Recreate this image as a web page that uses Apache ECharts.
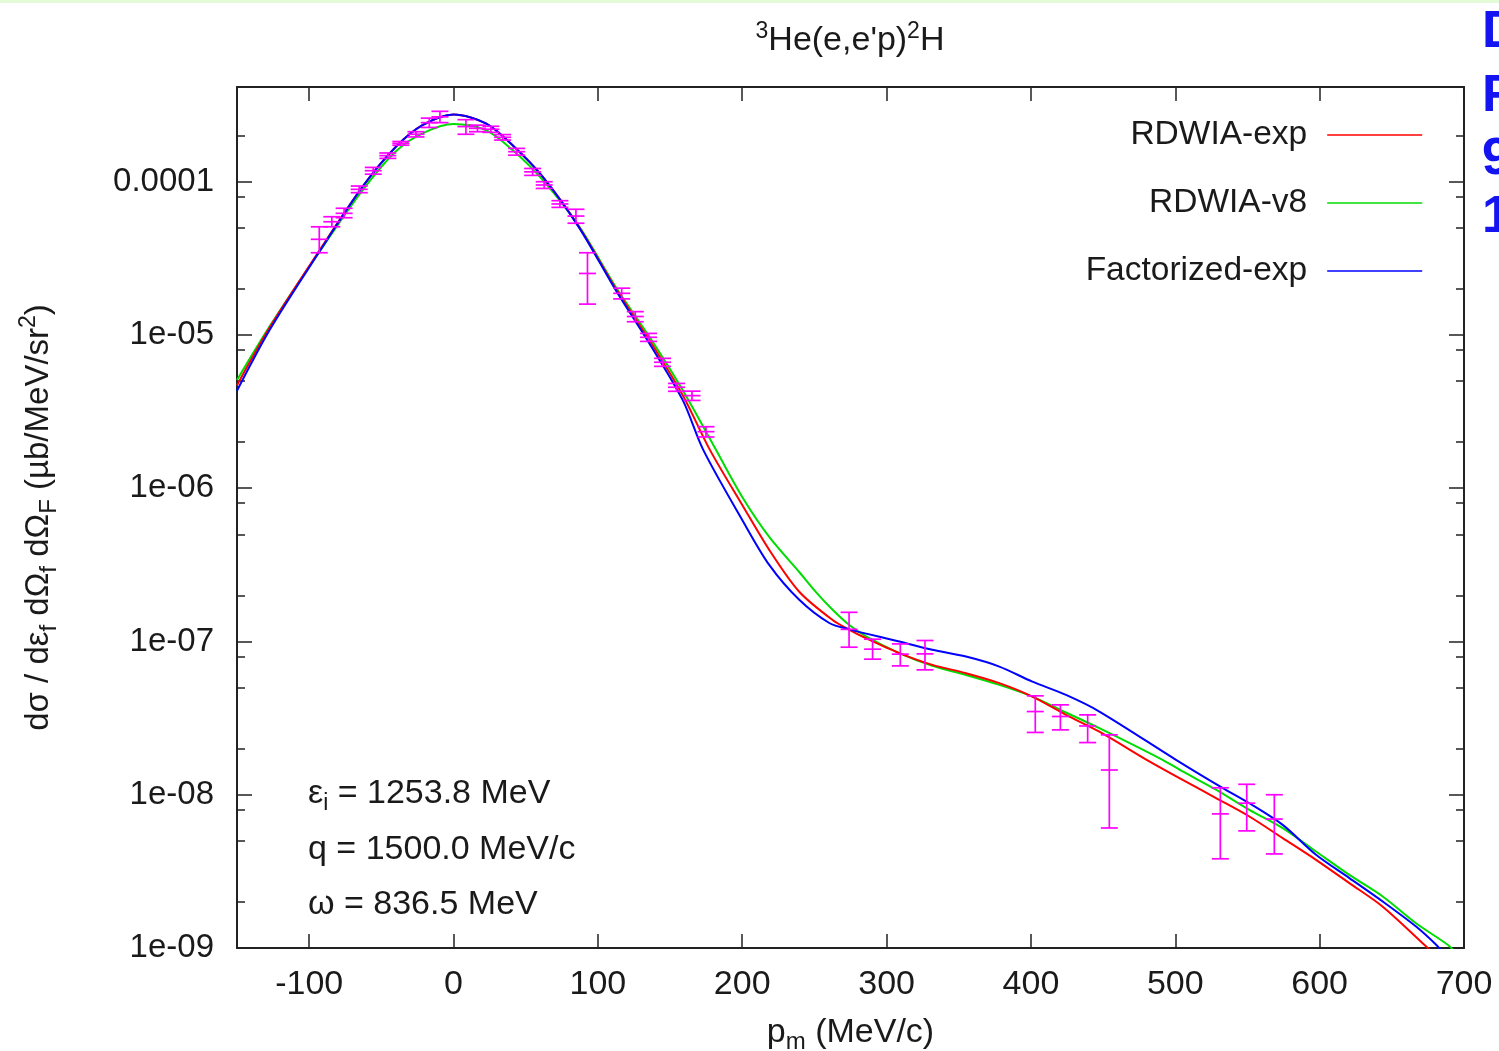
<!DOCTYPE html>
<html><head><meta charset="utf-8">
<script src="https://cdn.jsdelivr.net/npm/echarts@6/dist/echarts.min.js"></script>
<style>html,body{margin:0;padding:0;background:#fff;}#chart{width:1499px;height:1051px;}</style>
</head><body><div id="chart"></div>
<script>
const FONT = '"Liberation Sans", Arial, sans-serif';
const TXT = '#1a1a1a';

// axis ticks
const xTicks = [-100, 0, 100, 200, 300, 400, 500, 600, 700];
const yMajorTicks = [1e-9, 1e-8, 1e-7, 1e-6, 1e-5, 1e-4];
const yTickLabels = ['1e-09', '1e-08', '1e-07', '1e-06', '1e-05', '0.0001'];
const yMinorTicks = [2e-9, 5e-9, 8e-9, 2e-8, 5e-8, 8e-8, 2e-7, 5e-7, 8e-7, 2e-6, 5e-6, 8e-6, 2e-5, 5e-5, 8e-5, 2e-4];

// RDWIA-exp (red)
const redX = [-150, -127.6, -94.2, -63, -39.9, -21.5, 0, 22.4, 40.9, 61.7, 87.1, 112.5, 135.6, 158.7, 177.6, 200, 218.7, 239.5, 262.6, 274.2, 285.7, 308.8, 331.7, 355, 378.1, 401, 424.3, 447.4, 482, 505.1, 528.2, 551.3, 574.4, 597.5, 620.6, 643.7, 672.5, 680];
const redY = [4.69e-6, 1.11e-5, 3.41e-5, 9.28e-5, 1.69e-4, 2.34e-4, 2.75e-4, 2.40e-4, 1.73e-4, 1.08e-4, 5.05e-5, 2.0e-5, 9.28e-6, 4.06e-6, 1.78e-6, 7.78e-7, 3.96e-7, 2.11e-7, 1.38e-7, 1.19e-7, 1.05e-7, 8.40e-8, 7.04e-8, 6.21e-8, 5.35e-8, 4.37e-8, 3.32e-8, 2.58e-8, 1.65e-8, 1.25e-8, 9.51e-9, 7.21e-9, 5.21e-9, 3.76e-9, 2.65e-9, 1.86e-9, 1.05e-9, 9.0e-10];

// RDWIA-v8 (green)
const greenX = [-150, -127.6, -94.2, -63, -39.9, -21.5, 0, 22.4, 40.9, 61.7, 87.1, 112.5, 135.6, 158.7, 181.8, 200, 218.7, 239.5, 251.1, 262.6, 274.2, 285.7, 308.8, 331.7, 355, 378.1, 401, 424.3, 447.4, 491.2, 505.1, 528.2, 551.3, 574.4, 597.5, 620.6, 643.7, 666.8, 688.7, 695];
const greenY = [5.08e-6, 1.13e-5, 3.35e-5, 8.8e-5, 1.58e-4, 2.07e-4, 2.38e-4, 2.17e-4, 1.61e-4, 1.03e-4, 5.1e-5, 2.05e-5, 9.75e-6, 4.37e-6, 1.78e-6, 8.77e-7, 4.81e-7, 2.84e-7, 2.10e-7, 1.61e-7, 1.28e-7, 1.08e-7, 8.40e-8, 6.93e-8, 6.05e-8, 5.21e-8, 4.37e-8, 3.44e-8, 2.72e-8, 1.69e-8, 1.42e-8, 1.08e-8, 7.97e-9, 6.05e-9, 4.26e-9, 3.0e-9, 2.17e-9, 1.45e-9, 1.05e-9, 9.2e-10];

// Factorized-exp (blue)
const blueX = [-150, -127.6, -94.2, -63, -39.9, -21.5, 0, 22.4, 40.9, 61.7, 87.1, 112.5, 135.6, 158.7, 173, 200, 218.7, 239.5, 260.3, 274.2, 308.8, 331.7, 355, 378.1, 401, 424.3, 447.4, 500.5, 531.2, 551.3, 574.4, 597.5, 620.6, 643.7, 666.8, 680.7, 686];
const blueY = [4.33e-6, 1.07e-5, 3.35e-5, 9.28e-5, 1.69e-4, 2.34e-4, 2.75e-4, 2.40e-4, 1.73e-4, 1.08e-4, 5.0e-5, 1.95e-5, 8.83e-6, 3.77e-6, 1.78e-6, 6.21e-7, 3.16e-7, 1.87e-7, 1.32e-7, 1.20e-7, 1.0e-7, 8.82e-8, 7.97e-8, 6.86e-8, 5.47e-8, 4.48e-8, 3.49e-8, 1.69e-8, 1.13e-8, 8.80e-9, 6.36e-9, 4.06e-9, 2.86e-9, 2.01e-9, 1.38e-9, 1.05e-9, 9.2e-10];

// experimental data with error bars
const dataX = [-93, -84.3, -75.8, -65.3, -55.6, -45.5, -36.5, -26, -16.8, -9.4, 8.6, 16.6, 25.9, 34, 43.7, 54.8, 62.8, 73.7, 84.8, 92.8, 116.5, 125.9, 135.1, 144.8, 154.5, 165.2, 174.9, 274, 290.3, 309.5, 326.6, 403, 420.4, 439.3, 454.3, 531.2, 549.5, 568.6];
const dataY = [4.21e-5, 5.48e-5, 6.22e-5, 8.92e-5, 1.18e-4, 1.48e-4, 1.78e-4, 2.04e-4, 2.43e-4, 2.65e-4, 2.29e-4, 2.23e-4, 2.20e-4, 1.95e-4, 1.57e-4, 1.16e-4, 9.52e-5, 7.16e-5, 5.97e-5, 2.52e-5, 1.87e-5, 1.32e-5, 9.66e-6, 6.64e-6, 4.56e-6, 4.02e-6, 2.34e-6, 1.20e-7, 8.91e-8, 8.27e-8, 8.3e-8, 3.49e-8, 3.24e-8, 2.81e-8, 1.45e-8, 7.50e-9, 8.81e-9, 6.94e-9];
const dataLo = [3.44e-5, 5.08e-5, 5.82e-5, 8.48e-5, 1.12e-4, 1.42e-4, 1.73e-4, 1.96e-4, 2.26e-4, 2.43e-4, 2.04e-4, 2.12e-4, 2.10e-4, 1.87e-4, 1.49e-4, 1.10e-4, 9.04e-5, 6.80e-5, 5.36e-5, 1.59e-5, 1.72e-5, 1.22e-5, 9.08e-6, 6.24e-6, 4.29e-6, 3.74e-6, 2.16e-6, 9.18e-8, 7.67e-8, 6.93e-8, 6.53e-8, 2.55e-8, 2.65e-8, 2.19e-8, 6.07e-9, 3.82e-9, 5.81e-9, 4.11e-9];
const dataHi = [5.08e-5, 5.91e-5, 6.71e-5, 9.37e-5, 1.24e-4, 1.54e-4, 1.83e-4, 2.12e-4, 2.60e-4, 2.88e-4, 2.54e-4, 2.34e-4, 2.30e-4, 2.03e-4, 1.65e-4, 1.22e-4, 1.0e-4, 7.52e-5, 6.61e-5, 3.44e-5, 2.02e-5, 1.42e-5, 1.024e-5, 7.04e-6, 4.83e-6, 4.30e-6, 2.52e-6, 1.55e-7, 1.035e-7, 9.64e-8, 1.015e-7, 4.42e-8, 3.86e-8, 3.32e-8, 2.46e-8, 1.11e-8, 1.17e-8, 1.0e-8];

const zip = (xs, ys) => xs.map((x, i) => [x, ys[i]]);
const errData = dataX.map((x, i) => [x, dataY[i], dataLo[i], dataHi[i]]);

const Y_MIN = 1e-9, Y_MAX = 4.15e-4;
const BORDER = { lineStyle: { color: '#222', width: 2 } };

function yAxis(pos, major, showLabel) {
  const ticks = major ? yMajorTicks : yMinorTicks;
  return {
    type: 'log', logBase: 10, min: Y_MIN, max: Y_MAX, position: pos, gridIndex: 0,
    axisLine: { show: major, onZero: false, ...BORDER },
    axisTick: { show: true, inside: true, length: major ? 15 : 8, customValues: ticks, lineStyle: { color: '#222', width: 1.5 } },
    axisLabel: showLabel ? {
      show: true, customValues: yMajorTicks, margin: 23,
      fontFamily: FONT, fontSize: 33, color: TXT,
      formatter: v => yTickLabels[Math.round(Math.log10(v)) + 9]
    } : { show: false },
    splitLine: { show: false }, minorTick: { show: false }
  };
}

const lineSeries = (name, xs, ys, color, z) => ({
  name, type: 'line', data: zip(xs, ys), smooth: 0.3, symbol: 'none',
  xAxisIndex: 0, yAxisIndex: 0, z,
  lineStyle: { color, width: 2 }, itemStyle: { color, opacity: 0 }
});

const chart = echarts.init(document.getElementById('chart'), null, { renderer: 'canvas' });
chart.setOption({
  backgroundColor: '#fff',
  animation: false,
  grid: { left: 237, right: 35, top: 87, bottom: 103, containLabel: false, outerBoundsMode: 'none' },
  xAxis: [
    {
      type: 'value', min: -150, max: 700, position: 'bottom',
      axisLine: { onZero: false, ...BORDER },
      axisTick: { inside: true, length: 14, customValues: xTicks, lineStyle: { color: '#222', width: 1.5 } },
      axisLabel: { customValues: xTicks, margin: 20, fontFamily: FONT, fontSize: 34, color: TXT },
      splitLine: { show: false },
      name: '{n|p}{sub|m}{n| (MeV/c)}', nameLocation: 'middle', nameGap: 64,
      nameTextStyle: { fontFamily: FONT, color: TXT, rich: {
        n: { fontFamily: FONT, fontSize: 34, color: TXT, lineHeight: 42 },
        sub: { fontFamily: FONT, fontSize: 24, color: TXT, verticalAlign: 'bottom', lineHeight: 24 }
      } }
    },
    {
      type: 'value', min: -150, max: 700, position: 'top',
      axisLine: { onZero: false, ...BORDER },
      axisTick: { inside: true, length: 14, customValues: xTicks, lineStyle: { color: '#222', width: 1.5 } },
      axisLabel: { show: false }, splitLine: { show: false }
    }
  ],
  yAxis: [
    Object.assign(yAxis('left', true, true), {
      name: '{n|dσ / dε}{sub|f}{n| dΩ}{sub|f}{n| dΩ}{sub|F}{n| (µb/MeV/sr}{sup|2}{n|)}',
      nameLocation: 'middle', nameGap: 176, nameRotate: 90,
      nameTextStyle: { fontFamily: FONT, color: TXT, rich: {
        n: { fontFamily: FONT, fontSize: 33, color: TXT, lineHeight: 44 },
        sub: { fontFamily: FONT, fontSize: 24, color: TXT, verticalAlign: 'bottom', lineHeight: 24 },
        sup: { fontFamily: FONT, fontSize: 23, color: TXT, verticalAlign: 'top', lineHeight: 23 }
      } }
    }),
    yAxis('left', false, false),
    yAxis('right', true, false),
    yAxis('right', false, false)
  ],
  legend: [
    { data: ['RDWIA-exp'], top: 118 },
    { data: ['RDWIA-v8'], top: 186 },
    { data: ['Factorized-exp'], top: 254 }
  ].map(l => Object.assign({
    right: 76, orient: 'vertical', align: 'right', selectedMode: false,
    itemWidth: 95, itemHeight: 34, padding: 0,
    itemStyle: { opacity: 0 },
    lineStyle: { width: 1.6 },
    textStyle: { fontFamily: FONT, fontSize: 33.5, color: TXT, padding: [0, 15, 0, 0] }
  }, l)),
  series: [
    lineSeries('RDWIA-exp', redX, redY, '#ff0000', 3),
    lineSeries('RDWIA-v8', greenX, greenY, '#00dd00', 2),
    lineSeries('Factorized-exp', blueX, blueY, '#0000ff', 4),
    { name: 'data', type: 'custom', xAxisIndex: 0, yAxisIndex: 0, data: errData, z: 5,
      encode: { x: 0, y: [1, 2, 3] },
      renderItem: (params, api) => {
        const x = api.value(0);
        const c = api.coord([x, api.value(1)]);
        const lo = api.coord([x, api.value(2)]);
        const hi = api.coord([x, api.value(3)]);
        const hw = 8.5;
        const st = { stroke: '#ff00ff', lineWidth: 1.7, fill: null };
        return { type: 'group', children: [
          { type: 'line', shape: { x1: c[0], y1: hi[1], x2: c[0], y2: lo[1] }, style: st },
          { type: 'line', shape: { x1: c[0] - hw, y1: hi[1], x2: c[0] + hw, y2: hi[1] }, style: st },
          { type: 'line', shape: { x1: c[0] - hw, y1: lo[1], x2: c[0] + hw, y2: lo[1] }, style: st },
          { type: 'line', shape: { x1: c[0] - hw, y1: c[1], x2: c[0] + hw, y2: c[1] }, style: st }
        ] };
      }
    }
  ],
  graphic: [
    { type: 'rect', shape: { x: 0, y: 0, width: 1499, height: 3 }, style: { fill: '#e4fbd8' } },
    { type: 'text', x: 850, y: 41, style: {
      text: '{sup|3}{n|He(e,e\'p)}{sup|2}{n|H}', align: 'center', verticalAlign: 'middle',
      rich: {
        n: { fontFamily: FONT, fontSize: 34, fill: TXT, lineHeight: 42 },
        sup: { fontFamily: FONT, fontSize: 23, fill: TXT, verticalAlign: 'top', lineHeight: 23 }
      } } },
    { type: 'text', x: 308, y: 794, style: {
      text: '{n|ε}{sub|i}{n| = 1253.8 MeV}', verticalAlign: 'middle',
      rich: {
        n: { fontFamily: FONT, fontSize: 34, fill: TXT, lineHeight: 42 },
        sub: { fontFamily: FONT, fontSize: 23, fill: TXT, verticalAlign: 'bottom', lineHeight: 23 }
      } } },
    { type: 'text', x: 308, y: 850, style: { text: 'q = 1500.0 MeV/c', verticalAlign: 'middle',
      font: '34px ' + FONT, fill: TXT } },
    { type: 'text', x: 308, y: 905, style: { text: 'ω = 836.5 MeV', verticalAlign: 'middle',
      font: '34px ' + FONT, fill: TXT } },
    { type: 'text', x: 1482, y: 33, style: { text: 'D', verticalAlign: 'middle', font: 'bold 52px ' + FONT, fill: '#1414f0' } },
    { type: 'text', x: 1482, y: 97, style: { text: 'F', verticalAlign: 'middle', font: 'bold 52px ' + FONT, fill: '#1414f0' } },
    { type: 'text', x: 1482, y: 160, style: { text: '9', verticalAlign: 'middle', font: 'bold 52px ' + FONT, fill: '#1414f0' } },
    { type: 'text', x: 1482, y: 218, style: { text: '1', verticalAlign: 'middle', font: 'bold 52px ' + FONT, fill: '#1414f0' } }
  ]
});
</script>
</body></html>
